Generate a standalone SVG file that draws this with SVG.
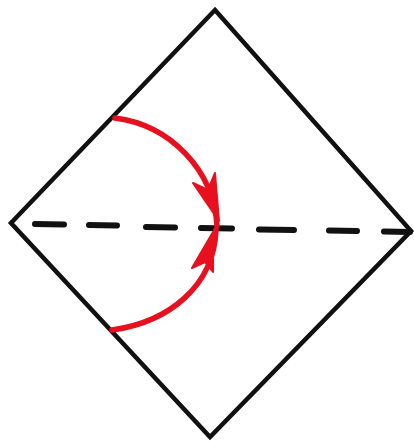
<svg xmlns="http://www.w3.org/2000/svg" width="414" height="447" viewBox="0 0 414 447">
<style>
.edge{fill:none;stroke:#111;stroke-width:4.5;stroke-linejoin:miter;stroke-linecap:round}
.dash{stroke:#111;stroke-width:6;stroke-linecap:round}
.red{fill:none;stroke:#e8101e;stroke-width:5.5;stroke-linecap:round}
.head{fill:#e8101e;stroke:#e8101e;stroke-width:2;stroke-linejoin:round}
</style>
<rect width="414" height="447" fill="#ffffff"/>
<g id="diamond">
<path class="edge" d="M215,10 L411,231 L210,437 L11,223 Z"/>
</g>
<g id="fold-line">
<line class="dash" x1="35" y1="224" x2="64" y2="224.5"/>
<line class="dash" x1="89" y1="225" x2="117" y2="225.5"/>
<line class="dash" x1="146" y1="227" x2="175" y2="227.5"/>
<line class="dash" x1="201" y1="228" x2="232" y2="228.5"/>
<line class="dash" x1="259" y1="229.5" x2="294" y2="230"/>
<line class="dash" x1="329" y1="230.5" x2="357" y2="231"/>
<line class="dash" x1="384" y1="231.5" x2="410" y2="232"/>
</g>
<g id="connectors">
<path class="red" d="M115,118 C170,125 214,170 217,226"/>
<polygon class="head" points="193,183 219,221 215,173 208,190"/>
<path class="red" d="M112,330 C170,322 214,285 216,230"/>
<polygon class="head" points="192,268 213,232 213,272 205,262"/>
</g>
</svg>
